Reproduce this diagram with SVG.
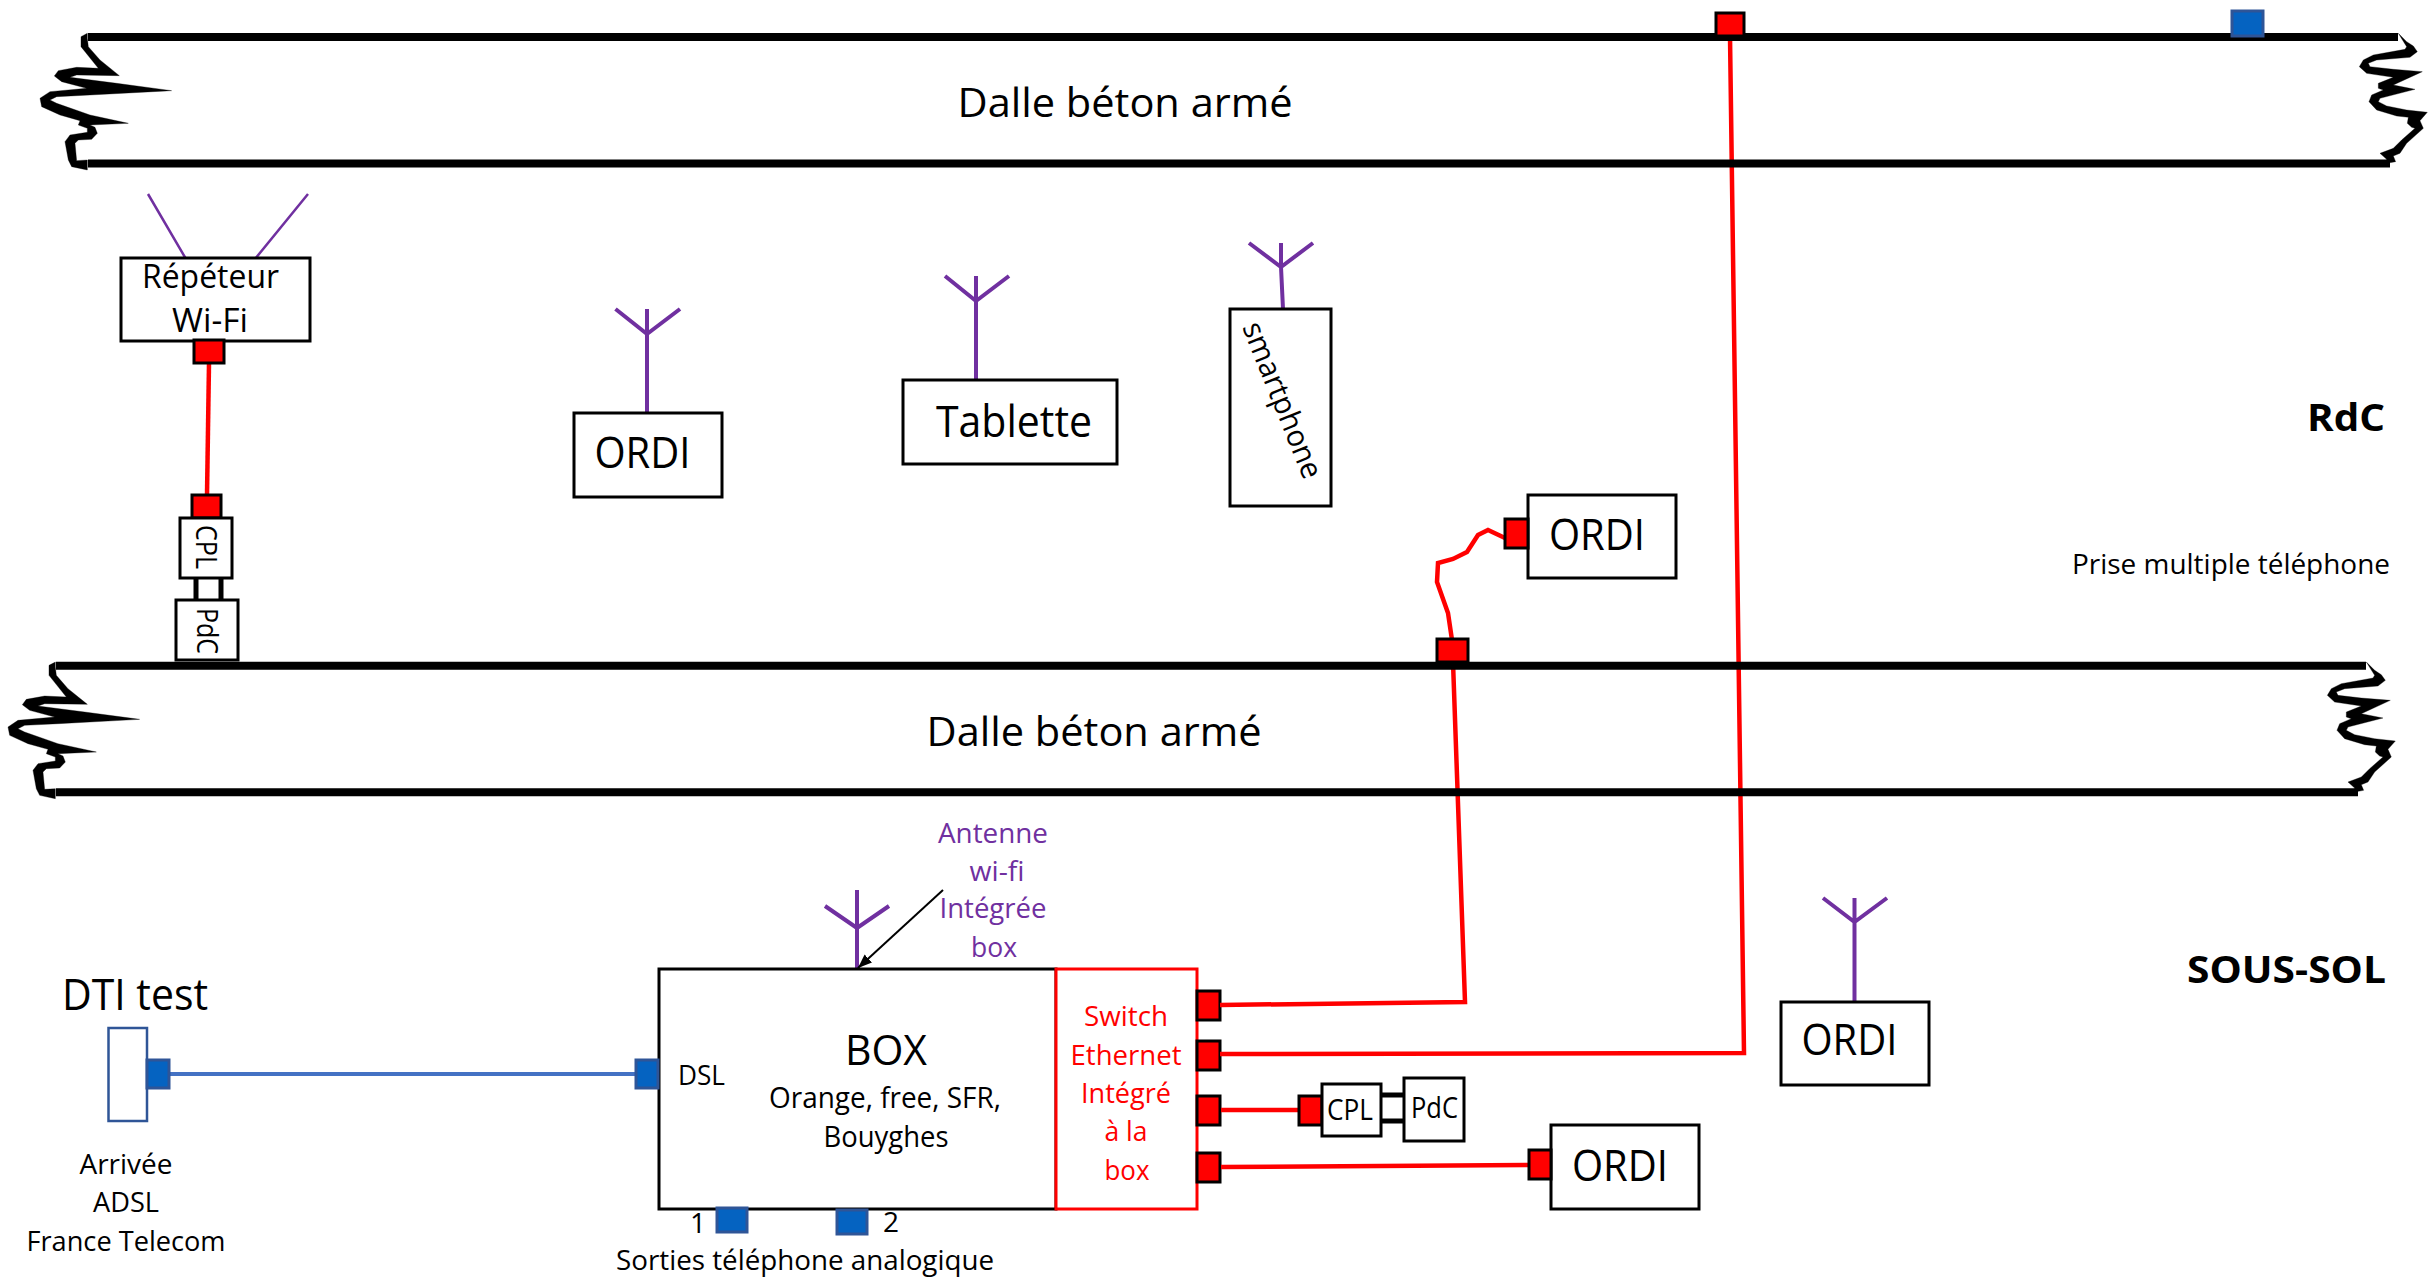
<svg xmlns="http://www.w3.org/2000/svg" width="2433" height="1283" viewBox="0 0 2433 1283">
<style>
text{font-family:"Open Sans","Noto Sans","Liberation Sans",sans-serif;fill:#000}
.c{text-anchor:middle}
.r{fill:#f00;stroke:#000;stroke-width:3}
.rp{fill:#0563c1;stroke:#2f5597;stroke-width:3}
.b{fill:#fff;stroke:#000;stroke-width:3}
.w{fill:none;stroke:#f00;stroke-width:4.500}
.a{fill:none;stroke:#7030a0;stroke-width:4}
.red{fill:#f00}
.pur{fill:#7030a0}
.sl{stroke:#000;stroke-width:8;fill:none}
.j{fill:#000;stroke:#000;stroke-width:1;stroke-linejoin:round}
</style>
<defs>
<marker id="ah" markerWidth="16" markerHeight="12" refX="14" refY="5.500" orient="auto" markerUnits="userSpaceOnUse"><path d="M0 0L14 5.500L0 11Z" fill="#000"/></marker>
<g id="slab">
<path class="sl" d="M88 37H2398M88 163.500H2390"/>
<path class="j" transform="scale(.3333)" d="M262 100L243 110L243 140L295 205L230 202L175 212L163 228L185 245L260 265L150 275L120 295L125 320L180 345L240 362L235 375L262 385L262 397L210 405L195 425L205 480L215 500L262 510L262 480L230 482L225 430L235 420L275 418L292 400L285 382L270 375L385 370L270 345L170 310L150 300L170 290L270 285L515 272L350 250L210 232L230 225L358 227L300 180L265 140L262 115Z"/>
<path class="j" transform="translate(2230 0) scale(.3333)" d="M505 100L530 140L525 148L430 165L400 180L388 200L410 220L490 232L445 250L445 265L460 270L425 285L417 305L440 330L500 348L535 352L532 370L545 382L555 385L515 420L490 445L450 460L470 478L470 490L497 485L490 468L510 460L530 430L580 385L570 362L592 337L530 330L470 318L445 305L450 295L555 268L490 255L577 215L490 208L420 200L415 190L440 180L540 172L562 155L550 138L530 125Z"/>
</g>
</defs>

<g id="box">
<path class="a" d="M857 969V890M825 906L857 928L889 906"/>
<rect class="b" x="659" y="969" width="397" height="240"/>
<text class="c" x="886" y="1065" font-size="42" textLength="82" lengthAdjust="spacingAndGlyphs">BOX</text>
<text class="c" x="885" y="1108" font-size="29" textLength="232" lengthAdjust="spacingAndGlyphs">Orange, free, SFR,</text>
<text class="c" x="886" y="1147" font-size="29" textLength="125" lengthAdjust="spacingAndGlyphs">Bouyghes</text>
<text x="678" y="1085" font-size="28" textLength="47" lengthAdjust="spacingAndGlyphs">DSL</text>
<text class="c" x="698" y="1233" font-size="28">1</text>
<text class="c" x="891" y="1232" font-size="28">2</text>
<text class="c" x="805" y="1270" font-size="28" textLength="378" lengthAdjust="spacingAndGlyphs">Sorties téléphone analogique</text>
</g>
<g id="switch">
<rect x="1056" y="969" width="141" height="240" fill="#fff" stroke="#f00" stroke-width="3"/>
<text class="c red" x="1126" y="1026" font-size="28" textLength="84" lengthAdjust="spacingAndGlyphs">Switch</text>
<text class="c red" x="1126" y="1065" font-size="28" textLength="111" lengthAdjust="spacingAndGlyphs">Ethernet</text>
<text class="c red" x="1126" y="1103" font-size="28" textLength="90" lengthAdjust="spacingAndGlyphs">Intégré</text>
<text class="c red" x="1126" y="1141" font-size="28" textLength="43" lengthAdjust="spacingAndGlyphs">à la</text>
<text class="c red" x="1127" y="1180" font-size="28" textLength="45" lengthAdjust="spacingAndGlyphs">box</text>
<rect class="r" x="1197" y="991" width="23" height="29"/>
<rect class="r" x="1197" y="1041" width="23" height="29"/>
<rect class="r" x="1197" y="1096" width="23" height="29"/>
<rect class="r" x="1197" y="1153" width="23" height="29"/>
</g>

<g id="connectors">
<path class="w" d="M1730 36L1744 1053L1220 1054"/>
<path class="w" d="M1453 662L1465 1002L1220 1005"/>
<path class="w" d="M1452 640L1448 613L1437 582L1438 563L1453 559L1467 552L1478 535L1488 530L1505 538"/>
<path class="w" d="M1221 1110H1298"/>
<path class="w" d="M1221 1167L1528 1165"/>
<path class="w" d="M209 363L207 495"/>
<path d="M170 1074H636" fill="none" stroke="#4472c4" stroke-width="4"/>
<path d="M943 890L858 968" fill="none" stroke="#000" stroke-width="2" marker-end="url(#ah)"/>
<path d="M1381 1095H1404M1381 1121H1404M196 578V600M221 578V600" fill="none" stroke="#000" stroke-width="5"/>
</g>

<g id="slab-top"><use href="#slab"/><text class="c" x="1125" y="117" font-size="41" textLength="335" lengthAdjust="spacingAndGlyphs">Dalle béton armé</text></g>
<g id="slab-mid"><use href="#slab" transform="translate(-32 628.700)"/><text class="c" x="1094" y="746" font-size="41" textLength="335" lengthAdjust="spacingAndGlyphs">Dalle béton armé</text></g>

<g id="port-top-red"><rect class="r" x="1716" y="13" width="28" height="23"/></g>
<g id="port-top-blue"><rect class="rp" x="2232" y="11" width="31" height="25"/></g>

<g id="repeater">
<path class="a" style="stroke-width:2.500" d="M148 194L186 259M308 194L255 259"/>
<rect class="b" x="121" y="258" width="189" height="83"/>
<text class="c" x="210.500" y="288" font-size="32" textLength="137" lengthAdjust="spacingAndGlyphs">Répéteur</text>
<text class="c" x="210" y="332" font-size="32" textLength="76" lengthAdjust="spacingAndGlyphs">Wi-Fi</text>
<rect class="r" x="194" y="340" width="30" height="23"/>
</g>
<g id="cpl-rdc">
<rect class="r" x="192" y="495" width="29" height="23"/>
<rect class="b" x="180" y="518" width="52" height="60"/>
<text class="c" font-size="30" transform="translate(196 547) rotate(90)" textLength="44" lengthAdjust="spacingAndGlyphs">CPL</text>
</g>
<g id="pdc-rdc">
<rect class="b" x="176" y="600" width="62" height="60"/>
<text class="c" font-size="30" transform="translate(197 631) rotate(90)" textLength="46" lengthAdjust="spacingAndGlyphs">PdC</text>
</g>

<g id="ordi-1">
<path class="a" d="M647 413V309M615.500 309L647 334L680 309"/>
<rect class="b" x="574" y="413" width="148" height="84"/>
<text class="c" x="642.500" y="468" font-size="44" textLength="96" lengthAdjust="spacingAndGlyphs">ORDI</text>
</g>
<g id="tablette">
<path class="a" d="M976 380V276M945 276L976 301L1009 276"/>
<rect class="b" x="903" y="380" width="214" height="84"/>
<text class="c" x="1014" y="437" font-size="43" textLength="156" lengthAdjust="spacingAndGlyphs">Tablette</text>
</g>
<g id="smartphone">
<path class="a" d="M1283 309L1281 267V243M1249 243L1281 267L1313 243"/>
<rect class="b" x="1230" y="309" width="101" height="197"/>
<text class="c" font-size="30" transform="translate(1273 404) rotate(68)" textLength="166" lengthAdjust="spacingAndGlyphs">smartphone</text>
</g>
<g id="ordi-2">
<rect class="b" x="1528" y="495" width="148" height="83"/>
<rect class="r" x="1505" y="519" width="23" height="29"/>
<text class="c" x="1597" y="550" font-size="44" textLength="96" lengthAdjust="spacingAndGlyphs">ORDI</text>
</g>
<g id="port-floor"><rect class="r" x="1437" y="639" width="31" height="23"/></g>

<text x="2385" y="431" font-size="38" font-weight="700" text-anchor="end" textLength="78" lengthAdjust="spacingAndGlyphs">RdC</text>
<text x="2390" y="574" font-size="28" text-anchor="end" textLength="318" lengthAdjust="spacingAndGlyphs">Prise multiple téléphone</text>
<text x="2386" y="983" font-size="38" font-weight="700" text-anchor="end" textLength="199" lengthAdjust="spacingAndGlyphs">SOUS-SOL</text>

<g id="dti">
<rect x="108.500" y="1028" width="38.500" height="93" fill="#fff" stroke="#2f5597" stroke-width="2.500"/>
<rect class="rp" x="147" y="1060" width="22" height="28"/>
<text x="62" y="1010" font-size="43" textLength="146" lengthAdjust="spacingAndGlyphs">DTI test</text>
<text class="c" x="126" y="1174" font-size="28" textLength="93" lengthAdjust="spacingAndGlyphs">Arrivée</text>
<text class="c" x="126" y="1212" font-size="28" textLength="66" lengthAdjust="spacingAndGlyphs">ADSL</text>
<text class="c" x="126" y="1251" font-size="28" textLength="199" lengthAdjust="spacingAndGlyphs">France Telecom</text>
</g>
<g id="ports-box">
<rect class="rp" x="636" y="1060" width="22" height="28"/>
<rect class="rp" x="717" y="1208" width="30" height="24"/>
<rect class="rp" x="837" y="1210" width="30" height="24"/>
</g>
<g id="antenne-label">
<text class="c pur" x="993" y="843" font-size="28" textLength="110" lengthAdjust="spacingAndGlyphs">Antenne</text>
<text class="c pur" x="997" y="881" font-size="28" textLength="55" lengthAdjust="spacingAndGlyphs">wi-fi</text>
<text class="c pur" x="993" y="918" font-size="28" textLength="107" lengthAdjust="spacingAndGlyphs">Intégrée</text>
<text class="c pur" x="994" y="957" font-size="28" textLength="46" lengthAdjust="spacingAndGlyphs">box</text>
</g>
<g id="cpl-sous">
<rect class="r" x="1299" y="1096" width="23" height="29"/>
<rect class="b" x="1322" y="1084" width="59" height="52"/>
<text class="c" x="1350" y="1120" font-size="29" textLength="46" lengthAdjust="spacingAndGlyphs">CPL</text>
</g>
<g id="pdc-sous">
<rect class="b" x="1404" y="1078" width="60" height="63"/>
<text class="c" x="1434.500" y="1118" font-size="29" textLength="47" lengthAdjust="spacingAndGlyphs">PdC</text>
</g>
<g id="ordi-3">
<rect class="b" x="1551" y="1125" width="148" height="84"/>
<rect class="r" x="1529" y="1150" width="22" height="29"/>
<text class="c" x="1620" y="1181" font-size="44" textLength="96" lengthAdjust="spacingAndGlyphs">ORDI</text>
</g>
<g id="ordi-4">
<path class="a" d="M1854.500 1002V898M1823 898L1854.500 922L1887 898"/>
<rect class="b" x="1781" y="1002" width="148" height="83"/>
<text class="c" x="1849.500" y="1055" font-size="44" textLength="96" lengthAdjust="spacingAndGlyphs">ORDI</text>
</g>
</svg>
